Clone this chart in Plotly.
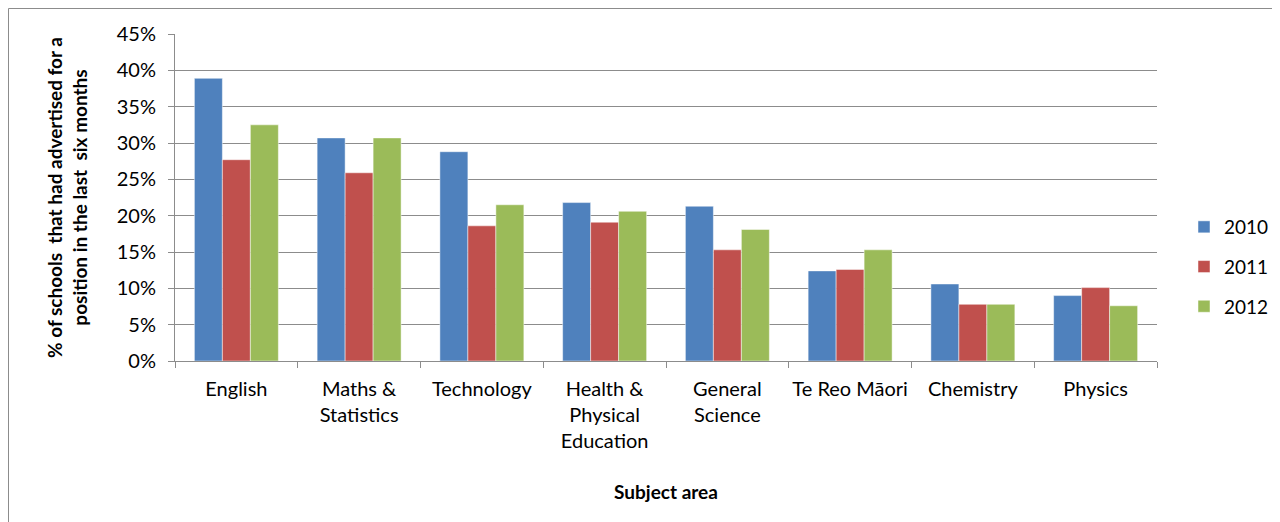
import plotly.graph_objects as go

subjects = ["English", "Maths &<br>Statistics", "Technology", "Health &<br>Physical<br>Education",
            "General<br>Science", "Te Reo Māori", "Chemistry", "Physics"]
pct_2010 = [38.9, 30.7, 28.8, 21.8, 21.3, 12.4, 10.6, 9.0]
pct_2011 = [27.7, 25.9, 18.6, 19.1, 15.3, 12.6, 7.8, 10.1]
pct_2012 = [32.5, 30.7, 21.5, 20.6, 18.1, 15.3, 7.8, 7.6]

series = [("2010", pct_2010, "#4F81BD"),
          ("2011", pct_2011, "#C0504D"),
          ("2012", pct_2012, "#9BBB59")]

FONT = "Lato, Liberation Sans, sans-serif"
# page body adds 8px; figure sized to fill the rest of the window
W, H = 1272, 514
L, R, T, B = 167, 123, 26, 161
PW, PH = W - L - R, H - T - B

fig = go.Figure()
for name, vals, col in series:
    fig.add_trace(go.Bar(
        x=subjects, y=vals, name=name, legendgroup=name,
        marker=dict(color=col, line=dict(color="rgba(255,255,255,0.6)", width=0.8)),
    ))

fig.update_layout(
    width=W, height=H,
    margin=dict(l=L, r=R, t=T, b=B, autoexpand=False),
    paper_bgcolor="white", plot_bgcolor="white",
    barmode="group", bargap=0.316, bargroupgap=0,
    font=dict(family=FONT, size=20, color="black"),
    legend=dict(x=(1176 - L) / PW, y=(H - B - 259) / PH, yanchor="middle",
                xanchor="left", tracegroupgap=12, traceorder="grouped",
                font=dict(size=19), itemwidth=30),
    showlegend=True,
)

fig.update_yaxes(
    range=[0, 45], dtick=5, ticksuffix="%",
    showgrid=True, gridcolor="#8c8c8c", gridwidth=1,
    showline=True, linecolor="#8c8c8c", linewidth=1,
    ticks="outside", ticklen=6, tickcolor="#8c8c8c",
    tickfont=dict(size=20), zeroline=False, ticklabelstandoff=8,
    title=dict(text="<b>% of schools  that had advertised for a<br>position in the last  six months</b>",
               font=dict(size=19), standoff=24),
)
fig.update_xaxes(
    showline=True, linecolor="#8c8c8c", linewidth=1,
    ticks="outside", ticklen=6, tickcolor="#8c8c8c", tickson="boundaries",
    tickfont=dict(size=20), tickangle=0, ticklabelstandoff=10,
    title=dict(text="<b>Subject area</b>", font=dict(size=19), standoff=34),
)

# outer chart border (top and left edges visible)
fig.add_shape(type="line", xref="paper", yref="paper",
              x0=(0.5 - L) / PW, x1=(W - L) / PW,
              y0=(H - B - 0.5) / PH, y1=(H - B - 0.5) / PH,
              line=dict(color="#8c8c8c", width=1))
fig.add_shape(type="line", xref="paper", yref="paper",
              x0=(0.5 - L) / PW, x1=(0.5 - L) / PW,
              y0=-B / PH, y1=(H - B - 0.5) / PH,
              line=dict(color="#8c8c8c", width=1))

fig.write_html("out.html")
